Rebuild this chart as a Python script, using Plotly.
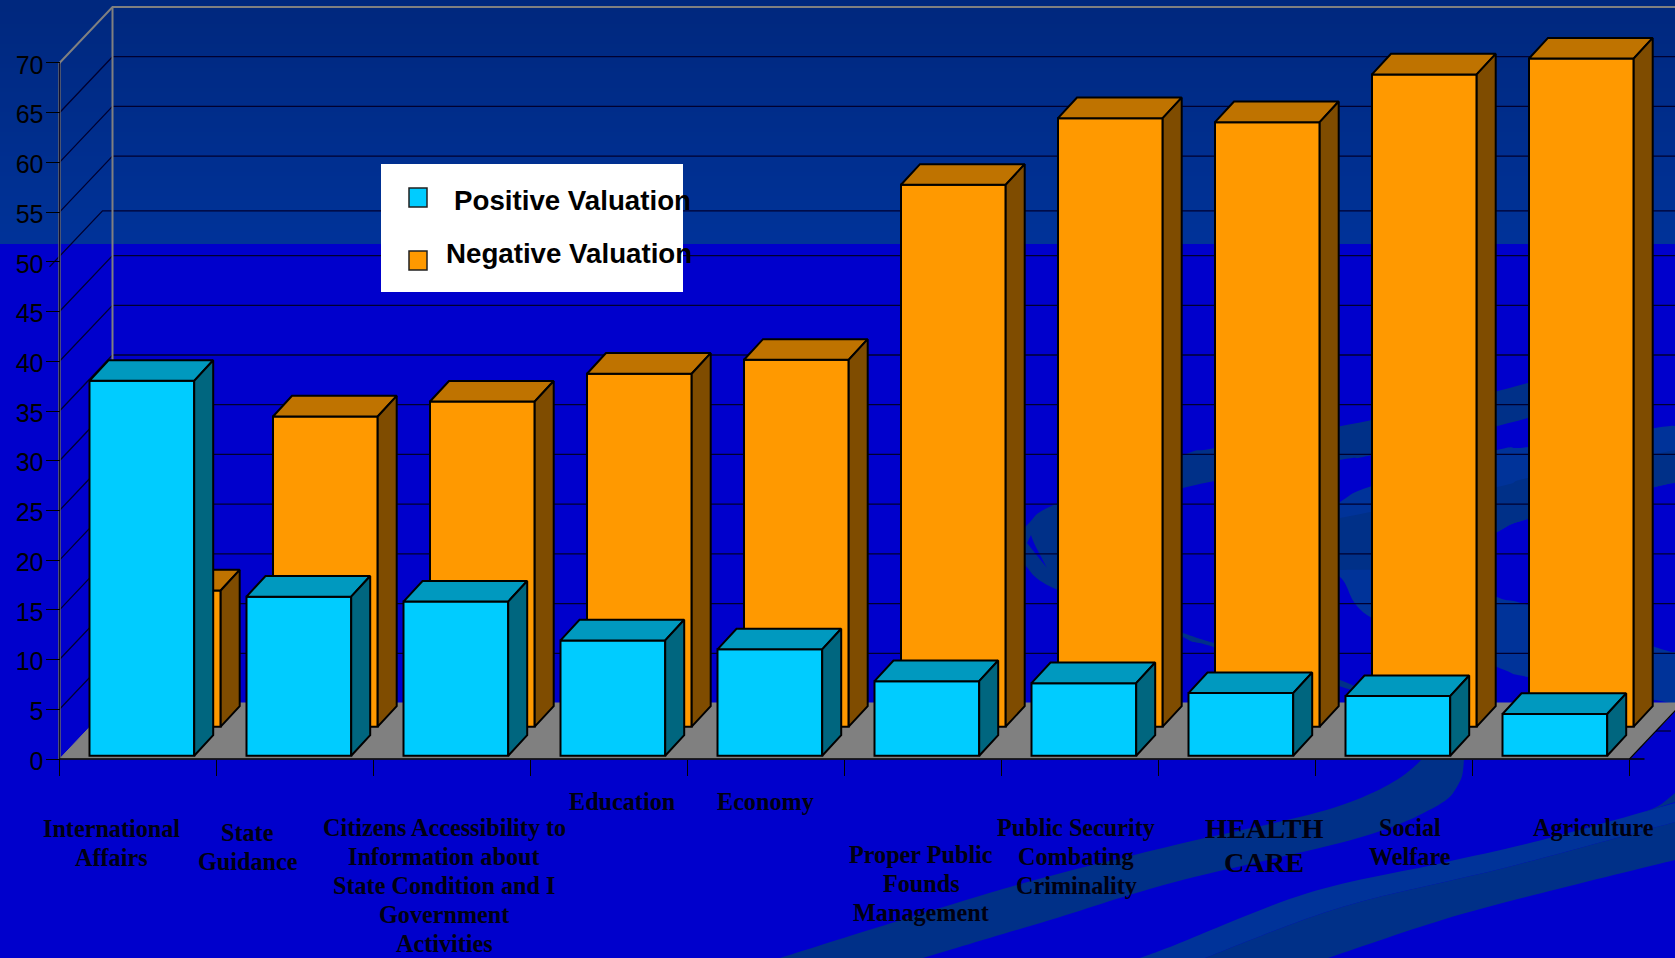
import plotly.graph_objects as go

# Survey values per category
categories = [
    "International Affairs", "State Guidance",
    "Citizens Accessibility to Information about State Condition and I Government Activities",
    "Education", "Economy", "Proper Public Founds Management",
    "Public Security Combating Criminality", "HEALTH CARE", "Social Welfare", "Agriculture",
]
positive_valuation = [37.7, 16.0, 15.5, 11.6, 10.7, 7.5, 7.3, 6.3, 6.0, 4.2]
negative_valuation = [13.7, 31.2, 32.7, 35.5, 36.9, 54.5, 61.2, 60.8, 65.6, 67.2]
y_ticks = list(range(0, 75, 5))

# Category captions: (lines, centre x, first-line y, line step, font size), in page pixels
captions = [
    (["International", "Affairs"], 111, 828, 29, 24.2),
    (["State", "Guidance"], 248, 832, 29, 24.2),
    (["Citizens Accessibility to", "Information about", "State Condition and I", "Government", "Activities"], 444, 827, 29, 24.2),
    (["Education"], 622, 801, 29, 24.2),
    (["Economy"], 765, 801, 29, 24.2),
    (["Proper Public", "Founds", "Management"], 921, 854, 29, 24.2),
    (["Public Security", "Combating", "Criminality"], 1076, 827, 29, 24.2),
    (["HEALTH", "CARE"], 1264, 828, 34, 28.3),
    (["Social", "Welfare"], 1410, 827, 29, 24.2),
    (["Agriculture"], 1593, 827, 29, 24.2),
]

W, H = 1675, 958
X0_PX, Y0_PX = 59.5, 759        # page position of the chart origin
CAT_PX, UNIT_PX = 157, 9.943    # pixels per category, pixels per value unit

WALL_DX, WALL_DV = 53 / CAT_PX, 56 / UNIT_PX   # depth of the chart box
BAR_DX, BAR_DV = 19 / CAT_PX, 20.6 / UNIT_PX   # depth of one bar
BAR_W = 104.7 / CAT_PX
POS_OFFSET, POS_BASE = 30 / CAT_PX, 0.33
NEG_OFFSET, NEG_BASE = 56.5 / CAT_PX, 3.25

x_range = [-X0_PX / CAT_PX, (W - X0_PX) / CAT_PX]
y_range = [(Y0_PX - H) / UNIT_PX, Y0_PX / UNIT_PX]
n_cat = len(categories)

GREY = "#808080"


def px(x):
    return x / W


def py(y):
    return 1 - y / H


def smooth(points):
    """Catmull-Rom curve through page-pixel points, as SVG path commands in paper space."""
    out = []
    p = points
    for i in range(len(p) - 1):
        a = p[max(i - 1, 0)]
        b, c = p[i], p[i + 1]
        d = p[min(i + 2, len(p) - 1)]
        c1 = (b[0] + (c[0] - a[0]) / 6, b[1] + (c[1] - a[1]) / 6)
        c2 = (c[0] - (d[0] - b[0]) / 6, c[1] - (d[1] - b[1]) / 6)
        out.append(f"C{px(c1[0]):.5f},{py(c1[1]):.5f} {px(c2[0]):.5f},{py(c2[1]):.5f} {px(c[0]):.5f},{py(c[1]):.5f}")
    return " ".join(out)


def ribbon(edge_a, edge_b, color):
    """Closed background ribbon bounded by two smooth edges."""
    d = (f"M{px(edge_a[0][0]):.5f},{py(edge_a[0][1]):.5f} " + smooth(edge_a)
         + f" L{px(edge_b[0][0]):.5f},{py(edge_b[0][1]):.5f} " + smooth(edge_b) + " Z")
    return dict(type="path", xref="paper", yref="paper", path=d, fillcolor=color,
                line=dict(width=0), layer="below")


RIB_DARK, RIB_LIGHT = "#003088", "#003399"
shapes = []

# Gradient band along the top of the page; each step runs to the band's foot so no seams show
BAND_H, STEPS = 244, 61
for k in range(STEPS):
    t = k / (STEPS - 1)
    color = f"rgb(0,{int(40 + 11 * t)},{int(126 + 27 * t)})"
    shapes.append(dict(type="rect", xref="paper", yref="paper", layer="below",
                       x0=0, x1=1, y0=py(BAND_H), y1=py(BAND_H * k / STEPS),
                       fillcolor=color, line=dict(width=0)))

# Background ribbons
shapes += [
    ribbon([(1640, 345), (1528, 383), (1372, 420), (1215, 448), (1183, 455), (1058, 503), (1030, 522),
            (1015, 545), (1025, 565), (1058, 590), (1183, 633), (1214, 643), (1340, 680), (1420, 722)],
           [(1352, 690), (1214, 647), (1183, 637), (1110, 590), (1100, 560), (1120, 520), (1183, 488),
            (1340, 460), (1372, 455), (1528, 418), (1640, 380)], RIB_DARK),
    ribbon([(1031, 535), (1035, 545), (1047, 568)], [(1027, 543)], "#0000CC"),
    ribbon([(1675, 426), (1655, 428), (1528, 447), (1497, 450), (1372, 486), (1340, 502), (1290, 535),
            (1300, 552), (1340, 577), (1372, 618), (1497, 667), (1528, 677), (1655, 700), (1675, 705)],
           [(1675, 652), (1655, 647), (1528, 605), (1497, 597), (1430, 565), (1497, 532), (1528, 519),
            (1655, 487), (1675, 483)], RIB_LIGHT),
    ribbon([(1340, 518), (1497, 487), (1528, 478), (1655, 454), (1675, 450)],
           [(1675, 483), (1655, 487), (1528, 519), (1497, 532), (1430, 565), (1340, 570)], RIB_DARK),
    ribbon([(780, 958), (1010, 887), (1175, 845), (1342, 805), (1422, 759), (1440, 700)],
           [(1464, 700), (1464, 759), (1458, 785), (1435, 807), (1358, 838), (1175, 882), (1050, 920), (923, 958)],
           RIB_DARK),
    ribbon([(1140, 958), (1175, 945), (1308, 893), (1442, 863), (1542, 840), (1675, 803)],
           [(1675, 822), (1508, 867), (1342, 907), (1205, 958)], RIB_LIGHT),
    ribbon([(1205, 958), (1342, 907), (1508, 867), (1675, 822)],
           [(1675, 860), (1542, 893), (1442, 920), (1328, 958)], RIB_DARK),
    ribbon([(1645, 812), (1660, 805), (1675, 793)], [(1675, 802)], RIB_DARK),
]

# Legend panel and its swatches
LEGEND_BOX = (381, 164, 683, 292)
shapes.append(dict(type="rect", xref="paper", yref="paper", layer="above",
                   x0=px(LEGEND_BOX[0]), x1=px(LEGEND_BOX[2]), y0=py(LEGEND_BOX[3]), y1=py(LEGEND_BOX[1]),
                   fillcolor="white", line=dict(width=0)))
for top, color in [(188, "#00CCFF"), (251, "#FF9900")]:
    shapes.append(dict(type="rect", xref="paper", yref="paper", layer="above",
                       x0=px(409), x1=px(427), y0=py(top + 19), y1=py(top),
                       fillcolor=color, line=dict(color="#202020", width=1.5)))

fig = go.Figure()


def add_lines(xs, ys, color, width):
    fig.add_trace(go.Scatter(x=xs, y=ys, mode="lines", hoverinfo="skip", showlegend=False,
                             line=dict(color=color, width=width), xaxis="x", yaxis="y"))


# Floor of the chart box
fig.add_trace(go.Scatter(
    x=[0, WALL_DX, n_cat + WALL_DX, n_cat, 0],
    y=[0, WALL_DV, WALL_DV, 0, 0],
    mode="lines", fill="toself", fillcolor=GREY, line=dict(color=GREY, width=1),
    hoverinfo="skip", showlegend=False, xaxis="x", yaxis="y"))
add_lines([n_cat, n_cat + WALL_DX], [0, WALL_DV], "black", 1.2)

# Gridlines on the side and back walls
for v in y_ticks[1:-1]:
    if v == 50:  # this level sits a little lower and further left on the wall
        sx, sv = -10 / CAT_PX, -5 / UNIT_PX
    else:
        sx, sv = 0, 0
    add_lines([0 + sx, WALL_DX + sx, n_cat + WALL_DX], [v + sv, v + WALL_DV + sv, v + WALL_DV + sv], "#000030", 1.3)

# Outline of the chart box
add_lines([WALL_DX, WALL_DX], [WALL_DV, 70 + WALL_DV], GREY, 2)
add_lines([0, 0], [0, 70], GREY, 2.4)
add_lines([0, 0], [0, 70], "#101030", 1.4)
add_lines([0, WALL_DX, n_cat + WALL_DX], [70, 70 + WALL_DV, 70 + WALL_DV], GREY, 2)

# Front edge of the floor and the depth tick
add_lines([0, n_cat + 15 / CAT_PX], [0, 0], "black", 1.5)
add_lines([n_cat + WALL_DX / 2, n_cat + WALL_DX / 2 + 15 / CAT_PX], [WALL_DV / 2, WALL_DV / 2], "black", 1)


def bars_3d(values, offset, base, front, top, side, name, layer):
    """Front face as a bar; top and side as filled quads derived from the same values."""
    xa, ya = f"x{layer}", f"y{layer}"
    lefts = [i + offset for i in range(len(values))]
    fig.add_trace(go.Bar(x=[l + BAR_W / 2 for l in lefts], y=values, base=base, width=BAR_W, name=name,
                         marker=dict(color=front, line=dict(color="black", width=2)),
                         showlegend=False, xaxis=xa, yaxis=ya))
    tx, ty, sx, sy = [], [], [], []
    for l, v in zip(lefts, values):
        t = base + v
        r = l + BAR_W
        tx += [l, l + BAR_DX, r + BAR_DX, r, l, None]
        ty += [t, t + BAR_DV, t + BAR_DV, t, t, None]
        sx += [r, r + BAR_DX, r + BAR_DX, r, r, None]
        sy += [base, base + BAR_DV, t + BAR_DV, t, base, None]
    for qx, qy, color in [(tx, ty, top), (sx, sy, side)]:
        fig.add_trace(go.Scatter(x=qx, y=qy, mode="lines", fill="toself", fillcolor=color,
                                 line=dict(color="black", width=2), hoverinfo="skip",
                                 showlegend=False, xaxis=xa, yaxis=ya))


bars_3d(negative_valuation, NEG_OFFSET, NEG_BASE, "#FF9900", "#BF7300", "#7F4C00", "Negative Valuation", 2)
bars_3d(positive_valuation, POS_OFFSET, POS_BASE, "#00CCFF", "#0099BF", "#00667F", "Positive Valuation", 3)

# Captions under the categories and legend labels
annotations = []
for lines, cx, y0, step, size in captions:
    for k, line in enumerate(lines):
        annotations.append(dict(xref="paper", yref="paper", x=px(cx), y=py(y0 + k * step), text=line,
                                showarrow=False, xanchor="center", yanchor="middle",
                                font=dict(family="Liberation Serif", size=size, color="#000010",
                                          weight="bold")))
for text, x, y in [("Positive Valuation", 452, 200), ("Negative Valuation", 444, 253)]:
    annotations.append(dict(xref="paper", yref="paper", x=px(x), y=py(y), text=text, showarrow=False,
                            xanchor="left", yanchor="middle",
                            font=dict(family="Liberation Sans", size=27.7, color="black", weight="bold")))

hidden = dict(visible=False, fixedrange=True)
fig.update_layout(
    width=W, height=H, margin=dict(l=0, r=0, t=0, b=0, pad=0), autosize=False,
    paper_bgcolor="#0000CC", plot_bgcolor="rgba(0,0,0,0)",
    barmode="overlay", showlegend=False, shapes=shapes, annotations=annotations,
    xaxis=dict(range=x_range, domain=[0, 1], anchor="free", position=(H - Y0_PX) / H,
               showgrid=False, zeroline=False, showline=False, tickmode="array",
               tickvals=list(range(n_cat + 1)), ticktext=[""] * (n_cat + 1),
               ticks="outside", ticklen=16, tickwidth=1, tickcolor="black", fixedrange=True),
    yaxis=dict(range=y_range, domain=[0, 1], anchor="free", position=X0_PX / W,
               showgrid=False, zeroline=False, showline=False, tickmode="array",
               tickvals=y_ticks, ticktext=[str(v) for v in y_ticks],
               ticks="outside", ticklen=14, tickwidth=1, tickcolor="black",
               ticklabelstandoff=-3, ticklabelshift=2,
               tickfont=dict(family="Liberation Sans", size=25, color="black"), fixedrange=True),
    xaxis2=dict(range=x_range, overlaying="x", anchor="y2", **hidden),
    yaxis2=dict(range=y_range, overlaying="y", anchor="x2", **hidden),
    xaxis3=dict(range=x_range, overlaying="x", anchor="y3", **hidden),
    yaxis3=dict(range=y_range, overlaying="y", anchor="x3", **hidden),
)

fig.write_html("out.html")
